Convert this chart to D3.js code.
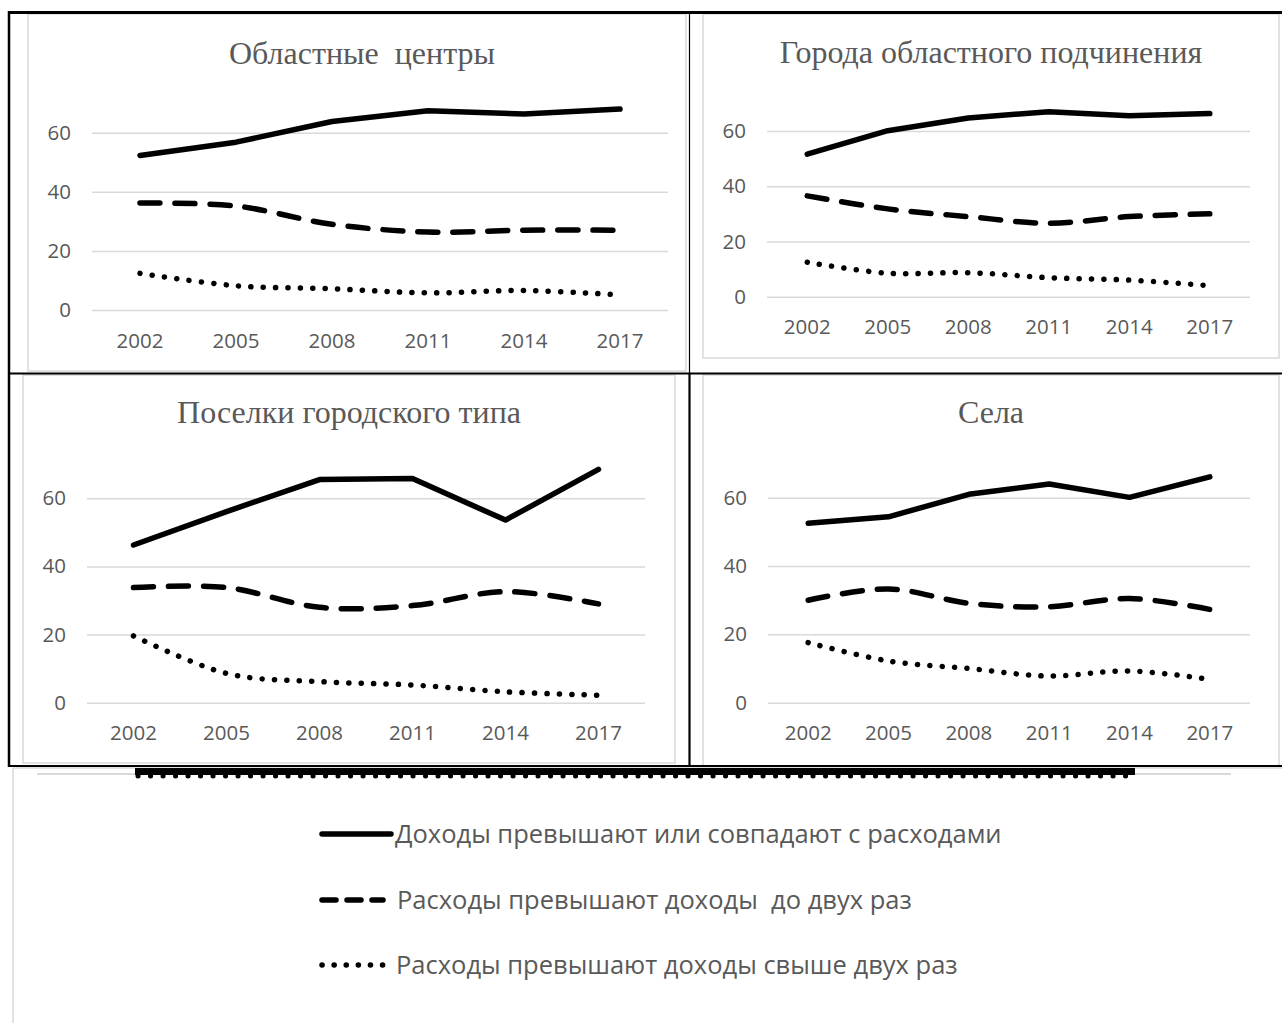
<!DOCTYPE html>
<html>
<head>
<meta charset="utf-8">
<script src="https://cdn.jsdelivr.net/npm/d3@7"></script>
<style>
  html, body { margin: 0; padding: 0; background: #fff; }
  svg { display: block; }
  text { white-space: pre; }
</style>
</head>
<body>
<svg id="chart" width="1282" height="1023"></svg>
<script>
// Survey years on the horizontal axis
const years = ["2002", "2005", "2008", "2011", "2014", "2017"];
const yTicks = [0, 20, 40, 60];

// Legend labels for the three household groups
const seriesLabels = [
  "Доходы превышают или совпадают с расходами",
  "Расходы превышают доходы  до двух раз",
  "Расходы превышают доходы свыше двух раз"
];

const panelTitles = [
  "Областные  центры",
  "Города областного подчинения",
  "Поселки городского типа",
  "Села"
];

// Областные центры, %
const centersIncomeCovers = [52.3, 56.8, 63.8, 67.4, 66.3, 68.0];
const centersUpToTwice    = [36.2, 35.2, 29.0, 26.4, 27.0, 27.0];
const centersOverTwice    = [12.4, 8.2, 7.2, 5.8, 6.6, 5.1];

// Города областного подчинения, %
const citiesIncomeCovers = [51.6, 60.1, 64.7, 67.0, 65.5, 66.3];
const citiesUpToTwice    = [36.5, 31.8, 29.0, 26.6, 29.0, 30.0];
const citiesOverTwice    = [12.5, 8.5, 8.7, 6.9, 6.0, 4.0];

// Поселки городского типа, %
const townsIncomeCovers = [46.3, 56.1, 65.5, 65.8, 53.6, 68.5];
const townsUpToTwice    = [33.8, 33.8, 28.0, 28.5, 32.6, 29.0];
const townsOverTwice    = [19.6, 8.6, 6.2, 5.2, 3.2, 2.2];

// Села, %
const villagesIncomeCovers = [52.5, 54.4, 61.0, 64.0, 60.1, 66.1];
const villagesUpToTwice    = [30.0, 33.3, 29.1, 28.1, 30.5, 27.3];
const villagesOverTwice    = [17.6, 12.2, 10.0, 7.8, 9.3, 6.8];

const panelData = [
  [centersIncomeCovers, centersUpToTwice, centersOverTwice],
  [citiesIncomeCovers, citiesUpToTwice, citiesOverTwice],
  [townsIncomeCovers, townsUpToTwice, townsOverTwice],
  [villagesIncomeCovers, villagesUpToTwice, villagesOverTwice]
];

// Geometry of each chart cell: frame, plot area, title baseline
const panelBoxes = [
  { frame: [28, 14, 686, 371], plot: [92, 668, 310, 132.7], titleX: 362, titleY: 64 },
  { frame: [703, 14, 1279, 358], plot: [767, 1250, 296.7, 131], titleX: 991, titleY: 63 },
  { frame: [23, 375, 675, 763], plot: [87, 645, 702.7, 498.3], titleX: 349, titleY: 423 },
  { frame: [703, 375, 1279, 766], plot: [768, 1250, 702.7, 497.7], titleX: 991, titleY: 423 }
];

// Stroke styles for the three series
const seriesStyles = [
  { dash: null, curve: d3.curveLinear },
  { dash: "20,15", curve: d3.curveCardinal.tension(0) },
  { dash: "0.1,12.3", curve: d3.curveCardinal.tension(0) }
];

const TEXT = "#595959";
const GRID = "#d9d9d9";
const SANS = "'Open Sans', 'Noto Sans', sans-serif";
const SERIF = "'Liberation Serif', 'DejaVu Serif', serif";

const svg = d3.select("#chart");

panelBoxes.forEach((box, i) => {
  const [fx0, fy0, fx1, fy1] = box.frame;
  const [px0, px1, py0, py60] = box.plot;
  const g = svg.append("g");

  g.append("rect")
    .attr("x", fx0).attr("y", fy0)
    .attr("width", fx1 - fx0).attr("height", fy1 - fy0)
    .attr("fill", "#fff").attr("stroke", GRID).attr("stroke-width", 1.5);

  const x = d3.scaleBand().domain(years).range([px0, px1]);
  const y = d3.scaleLinear().domain([0, 60]).range([py0, py60]);

  // Horizontal gridlines with value labels
  const yAxis = g.append("g")
    .attr("transform", `translate(${px0},0)`)
    .call(d3.axisLeft(y).tickValues(yTicks).tickSize(-(px1 - px0)).tickPadding(21));
  yAxis.select(".domain").remove();
  yAxis.selectAll(".tick line").attr("stroke", GRID).attr("stroke-width", 1.5);
  yAxis.selectAll(".tick text")
    .attr("fill", TEXT).style("font-family", SANS).style("font-size", "20.5px");

  // Year labels
  const xAxis = g.append("g")
    .attr("transform", `translate(0,${py0})`)
    .call(d3.axisBottom(x).tickSize(0).tickPadding(23));
  xAxis.select(".domain").remove();
  xAxis.selectAll(".tick text")
    .attr("fill", TEXT).style("font-family", SANS).style("font-size", "20.5px");

  g.append("text")
    .attr("x", box.titleX).attr("y", box.titleY)
    .attr("text-anchor", "middle")
    .attr("fill", TEXT)
    .style("font-family", SERIF).style("font-size", "32px")
    .text(panelTitles[i]);

  panelData[i].forEach((values, s) => {
    const st = seriesStyles[s];
    const line = d3.line()
      .x((d, k) => x(years[k]) + x.bandwidth() / 2)
      .y(d => y(d))
      .curve(st.curve);
    g.append("path")
      .datum(values)
      .attr("d", line)
      .attr("fill", "none")
      .attr("stroke", "#000")
      .attr("stroke-width", 5.5)
      .attr("stroke-linecap", "round")
      .attr("stroke-linejoin", "round")
      .attr("stroke-dasharray", st.dash);
  });
});

// Table rules around the chart cells
const rules = svg.append("g").attr("stroke", "#000");
rules.append("line").attr("x1", 8).attr("x2", 1282).attr("y1", 12.5).attr("y2", 12.5).attr("stroke-width", 3);
rules.append("line").attr("x1", 8).attr("x2", 1282).attr("y1", 373.5).attr("y2", 373.5).attr("stroke-width", 2);
rules.append("line").attr("x1", 8).attr("x2", 1282).attr("y1", 766).attr("y2", 766).attr("stroke-width", 2);
rules.append("line").attr("x1", 9).attr("x2", 9).attr("y1", 11).attr("y2", 767).attr("stroke-width", 2.5);
rules.append("line").attr("x1", 689.5).attr("x2", 689.5).attr("y1", 12).attr("y2", 373).attr("stroke-width", 1.2);
rules.append("line").attr("x1", 689.5).attr("x2", 689.5).attr("y1", 373).attr("y2", 767).attr("stroke-width", 2.2);

// Legend cell
const legend = svg.append("g");
legend.append("line").attr("x1", 13).attr("x2", 13).attr("y1", 768).attr("y2", 1023)
  .attr("stroke", GRID).attr("stroke-width", 1.5);
legend.append("line").attr("x1", 13).attr("x2", 1282).attr("y1", 768).attr("y2", 768)
  .attr("stroke", GRID).attr("stroke-width", 1.5);

// Compressed strip of series keys along the top of the legend cell
legend.append("line").attr("x1", 37).attr("x2", 1231).attr("y1", 774).attr("y2", 774)
  .attr("stroke", GRID).attr("stroke-width", 2);
legend.append("rect").attr("x", 135).attr("y", 768).attr("width", 1000).attr("height", 7).attr("fill", "#000");
legend.append("line").attr("x1", 138).attr("x2", 1132).attr("y1", 776).attr("y2", 776)
  .attr("stroke", "#000").attr("stroke-width", 5).attr("stroke-linecap", "round")
  .attr("stroke-dasharray", "0.1,12.4");

const legendRows = [
  { y: 834, x0: 322, x1: 391, tx: 395 },
  { y: 900, x0: 322, x1: 383, tx: 397 },
  { y: 965, x0: 322, x1: 383, tx: 396 }
];
legendRows.forEach((r, s) => {
  legend.append("line")
    .attr("x1", r.x0).attr("x2", r.x1).attr("y1", r.y).attr("y2", r.y)
    .attr("stroke", "#000").attr("stroke-width", 5.5)
    .attr("stroke-linecap", "round")
    .attr("stroke-dasharray", s === 0 ? null : (s === 1 ? "14,11" : "0.1,12"));
  legend.append("text")
    .attr("x", r.tx).attr("y", r.y + 8.5)
    .attr("fill", TEXT)
    .style("font-family", SANS).style("font-size", "25.5px")
    .text(seriesLabels[s]);
});
</script>
</body>
</html>
